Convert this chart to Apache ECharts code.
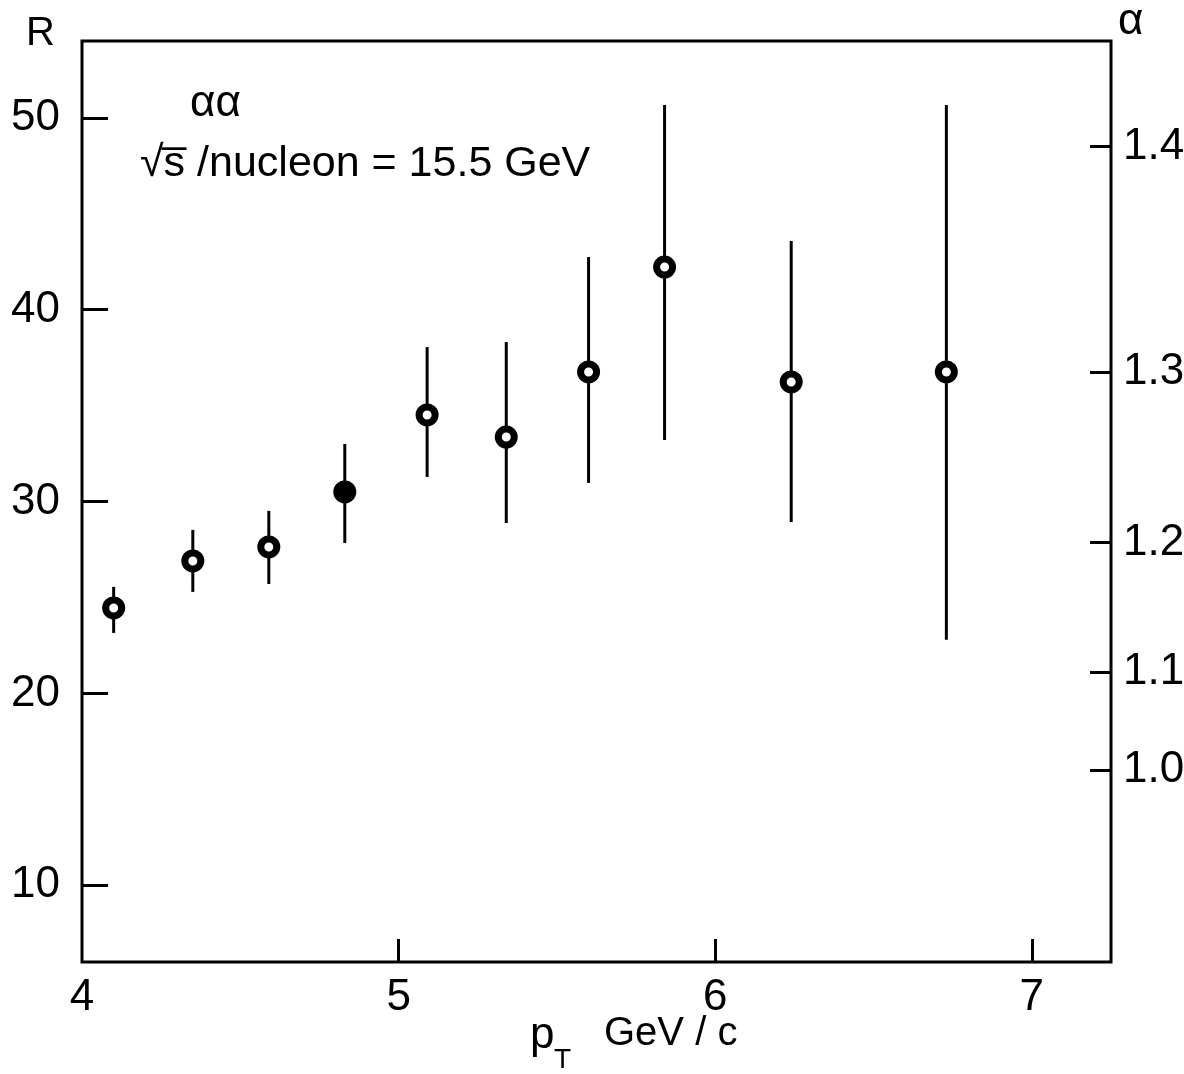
<!DOCTYPE html>
<html>
<head>
<meta charset="utf-8">
<script src="https://cdn.jsdelivr.net/npm/echarts@6/dist/echarts.min.js"></script>
<style>
  html, body { margin: 0; padding: 0; background: #fff; }
  #chart { width: 1184px; height: 1074px; }
</style>
</head>
<body>
<div id="chart"></div>
<script>
// pT (GeV/c), ratio R with error bar ends
const pT    = [4.10, 4.35, 4.59, 4.83, 5.09, 5.34, 5.60, 5.84, 6.24, 6.73];
const R     = [24.45, 26.90, 27.63, 30.50, 34.51, 33.36, 36.75, 42.22, 36.23, 36.75];
const Rlow  = [23.15, 25.29, 25.70, 27.84, 31.28, 28.88, 30.97, 33.21, 28.93, 22.79];
const Rhigh = [25.55, 28.52, 29.51, 33.00, 38.05, 38.31, 42.74, 50.66, 43.58, 50.66];
const solidPoint = 3; // the one fully black marker

const xTicks = [4, 5, 6, 7];
const rTicks = [10, 20, 30, 40, 50];
const alphaTicks = [1.0, 1.1, 1.2, 1.3, 1.4]; // right scale, R = 16^alpha

const FONT = 'Liberation Sans';
const chart = echarts.init(document.getElementById('chart'));

const points = pT.map((x, i) => {
  const item = { value: [x, R[i]] };
  if (i === solidPoint) item.itemStyle = { color: '#000' };
  return item;
});
const bars = pT.map((x, i) => [x, Rlow[i], Rhigh[i]]);

const tickStyle = { show: true, inside: true, lineStyle: { color: '#000', width: 3 } };
const labelStyle = { color: '#000', fontSize: 44, fontFamily: FONT };

chart.setOption({
  backgroundColor: '#fff',
  animation: false,
  grid: {
    left: 82, right: 73, top: 41, bottom: 112,
    outerBoundsMode: 'none',
    show: true, borderColor: '#000', borderWidth: 3
  },
  xAxis: {
    type: 'value', min: 4, max: 7.25,
    axisLine: { show: false },
    splitLine: { show: false },
    axisTick: Object.assign({}, tickStyle, { length: 23, customValues: xTicks.slice(1) }),
    axisLabel: Object.assign({}, labelStyle, { margin: 14, customValues: xTicks })
  },
  yAxis: [{
    type: 'value', min: 6, max: 54, position: 'left',
    axisLine: { show: false },
    splitLine: { show: false },
    axisTick: Object.assign({}, tickStyle, { length: 26, customValues: rTicks }),
    axisLabel: Object.assign({}, labelStyle, { margin: 22, customValues: rTicks })
  }, {
    type: 'value', min: 6, max: 54, position: 'right',
    axisLine: { show: false },
    splitLine: { show: false },
    axisTick: Object.assign({}, tickStyle, { length: 21, customValues: alphaTicks.map(a => Math.pow(16, a)) }),
    axisLabel: Object.assign({}, labelStyle, {
      margin: 12,
      customValues: alphaTicks.map(a => Math.pow(16, a)),
      formatter: v => (Math.log(v) / Math.log(16)).toFixed(1)
    })
  }],
  graphic: [
    { type: 'text', x: 26, y: 34, style: { text: 'R', fontSize: 40, fontFamily: FONT, fill: '#000', textVerticalAlign: 'middle' } },
    { type: 'text', x: 1118, y: 22, style: { text: 'α', fontSize: 44, fontFamily: FONT, fill: '#000', textVerticalAlign: 'middle' } },
    { type: 'text', x: 190, y: 104, style: { text: 'αα', fontSize: 44, fontFamily: FONT, fill: '#000', textVerticalAlign: 'middle' } },
    { type: 'text', x: 140, y: 164, style: { text: '√s̅ /nucleon = 15.5 GeV', fontSize: 43, fontFamily: FONT, fill: '#000', textVerticalAlign: 'middle' } },
    { type: 'text', x: 530, y: 1036, style: { text: 'p', fontSize: 44, fontFamily: FONT, fill: '#000', textVerticalAlign: 'middle' } },
    { type: 'text', x: 554, y: 1060, style: { text: 'T', fontSize: 28, fontFamily: FONT, fill: '#000', textVerticalAlign: 'middle' } },
    { type: 'text', x: 604, y: 1034, style: { text: 'GeV / c', fontSize: 40, fontFamily: FONT, fill: '#000', textVerticalAlign: 'middle' } }
  ],
  series: [{
    type: 'custom',
    z: 1,
    data: bars,
    renderItem: (params, api) => {
      const lo = api.coord([api.value(0), api.value(1)]);
      const hi = api.coord([api.value(0), api.value(2)]);
      return {
        type: 'line',
        shape: { x1: lo[0], y1: lo[1], x2: hi[0], y2: hi[1] },
        style: { stroke: '#000', lineWidth: 3 }
      };
    }
  }, {
    type: 'scatter',
    z: 3,
    data: points,
    symbol: 'circle',
    symbolSize: 16,
    itemStyle: { color: '#fff', borderColor: '#000', borderWidth: 7, opacity: 1 }
  }]
});
</script>
</body>
</html>
